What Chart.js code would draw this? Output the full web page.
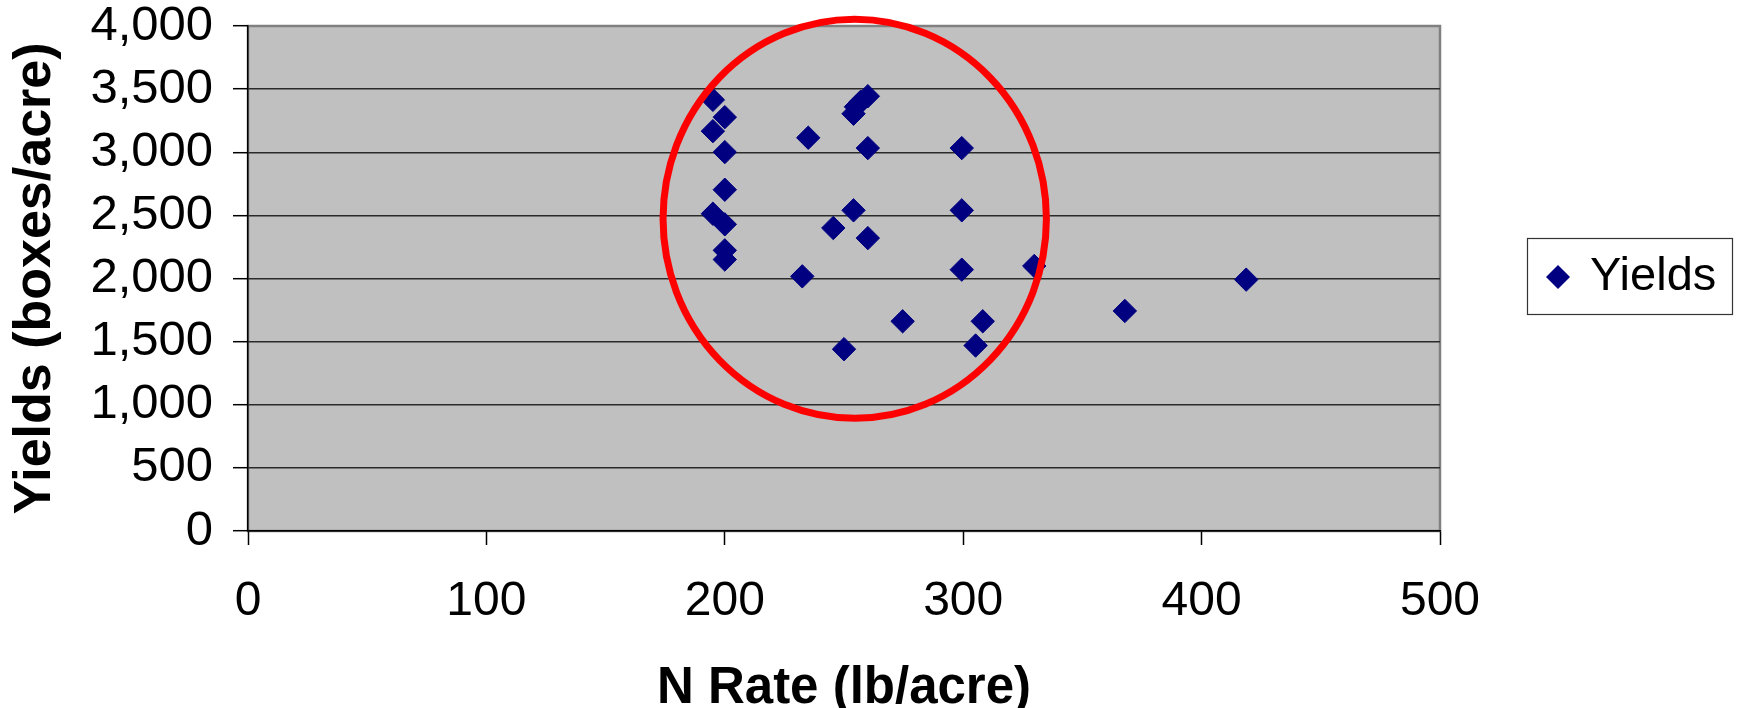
<!DOCTYPE html>
<html><head><meta charset="utf-8">
<script src="https://cdn.jsdelivr.net/npm/chart.js@4/dist/chart.umd.min.js"></script>
<style>html,body{margin:0;padding:0;background:#fff;overflow:hidden}canvas{display:block}</style>
</head><body>
<canvas id="c" width="1738" height="708"></canvas>
<script>
// ---- data ----
const nRate  = [195, 200, 195, 200, 200, 195, 200, 200, 200, 235, 232.5, 245.5, 254, 255, 257, 260, 260, 254, 260, 250, 274.6, 299.4, 299.4, 299.4, 305.2, 308.2, 329.8, 367.8, 418.7];
const yields = [3415, 3278, 3167, 3001, 2703, 2513, 2429, 2223, 2150, 3115, 2017, 2400, 3305, 3360, 3400, 3444, 3033, 2540, 2320, 1440, 1661, 3033, 2540, 2070, 1469, 1661, 2099, 1743, 1991];
const xTickLabels = ['0', '100', '200', '300', '400', '500'];
const yTickLabels = ['0', '500', '1,000', '1,500', '2,000', '2,500', '3,000', '3,500', '4,000'];
const seriesName = 'Yields';
const xTitle = 'N Rate (lb/acre)';
const yTitle = 'Yields (boxes/acre)';
// highlighted region (data units): centre and radii
const highlightCenter = [254.5, 2473];
const highlightRadii = [80.4, 1580];

const FONT = "'Liberation Sans', Arial, Helvetica, sans-serif";
const NAVY = '#000080';

const points = nRate.map((x, i) => ({x, y: yields[i]}));

const plotBg = {
  id: 'plotBg',
  beforeDraw(chart) {
    const {ctx, chartArea: a} = chart;
    ctx.save();
    ctx.fillStyle = '#C0C0C0';
    ctx.fillRect(a.left, a.top, a.right - a.left, a.bottom - a.top);
    ctx.strokeStyle = '#808080';
    ctx.lineWidth = 2.5;
    ctx.strokeRect(a.left, a.top, a.right - a.left, a.bottom - a.top);
    ctx.restore();
  }
};

const ring = {
  id: 'ring',
  afterDatasetsDraw(chart) {
    const {ctx} = chart;
    const xs = chart.scales.x, ys = chart.scales.y;
    const cx = xs.getPixelForValue(highlightCenter[0]);
    const cy = ys.getPixelForValue(highlightCenter[1]);
    const rx = xs.getPixelForValue(highlightCenter[0] + highlightRadii[0]) - cx;
    const ry = cy - ys.getPixelForValue(highlightCenter[1] + highlightRadii[1]);
    ctx.save();
    ctx.beginPath();
    ctx.ellipse(cx, cy, rx, ry, 0, 0, Math.PI * 2);
    ctx.strokeStyle = '#FF0000';
    ctx.lineWidth = 7;
    ctx.stroke();
    ctx.restore();
  }
};

const boxLegend = {
  id: 'boxLegend',
  afterDraw(chart) {
    const {ctx} = chart;
    const ds = chart.data.datasets[0];
    const L = 1527, T = 238, W = 205, H = 76;
    ctx.save();
    ctx.fillStyle = '#fff';
    ctx.fillRect(L, T, W, H);
    ctx.strokeStyle = '#333';
    ctx.lineWidth = 1.2;
    ctx.strokeRect(L + 0.5, T + 0.5, W, H);
    const mx = L + 31, my = T + H / 2 + 1, r = 12;
    ctx.beginPath();
    ctx.moveTo(mx - r, my); ctx.lineTo(mx, my - r); ctx.lineTo(mx + r, my); ctx.lineTo(mx, my + r);
    ctx.closePath();
    ctx.fillStyle = NAVY;
    ctx.fill();
    ctx.fillStyle = '#000';
    ctx.font = '47px ' + FONT;
    ctx.textBaseline = 'middle';
    ctx.textAlign = 'left';
    ctx.fillText(ds.label, L + 63, my);
    ctx.restore();
  }
};

new Chart(document.getElementById('c'), {
  type: 'scatter',
  data: {
    datasets: [{
      label: seriesName,
      data: points,
      pointStyle: 'rectRot',
      pointRadius: 11.7,
      pointHoverRadius: 11.7,
      backgroundColor: NAVY,
      borderColor: NAVY,
      borderWidth: 1
    }]
  },
  options: {
    responsive: false,
    devicePixelRatio: 1,
    animation: false,
    layout: {padding: {top: 26, right: 298, bottom: 0, left: 0}},
    plugins: {legend: {display: false}, tooltip: {enabled: false}},
    scales: {
      x: {
        type: 'linear', min: 0, max: 500,
        afterFit(s) { s.height = 177; s.paddingLeft = 0; s.paddingRight = 0; },
        ticks: {
          stepSize: 100, autoSkip: false, maxRotation: 0, padding: 33,
          color: '#000', font: {family: FONT, size: 48, lineHeight: 1.0},
          callback: (v) => xTickLabels[Math.round(v / 100)]
        },
        grid: {drawOnChartArea: false, drawTicks: true, tickLength: 14, tickColor: '#000', tickWidth: 1.5},
        border: {display: true, color: '#000', width: 1.5},
        title: {display: true, text: xTitle, color: '#000', padding: {top: 0, bottom: 0},
          font: {family: FONT, size: 51, weight: 'bold', lineHeight: 0.76}}
      },
      y: {
        type: 'linear', min: 0, max: 4000,
        afterFit(s) { s.width = 248; s.paddingTop = 0; s.paddingBottom = 0; },
        ticks: {
          stepSize: 500, autoSkip: false, padding: 20,
          color: '#000', font: {family: FONT, size: 49, lineHeight: 1.0},
          callback: (v) => yTickLabels[Math.round(v / 500)]
        },
        grid: {
          color: (c) => (c.tick && c.tick.value === 4000) ? 'rgba(0,0,0,0)' : '#2a2a2a',
          lineWidth: 1.4, drawTicks: true, tickLength: 15, tickColor: '#000', tickWidth: 1.5
        },
        border: {display: true, color: '#000', width: 1.5},
        title: {display: true, text: yTitle, color: '#000', padding: {top: 10, bottom: 0},
          font: {family: FONT, size: 52, weight: 'bold', lineHeight: 1.0}}
      }
    }
  },
  plugins: [plotBg, ring, boxLegend]
});
</script>
</body></html>
